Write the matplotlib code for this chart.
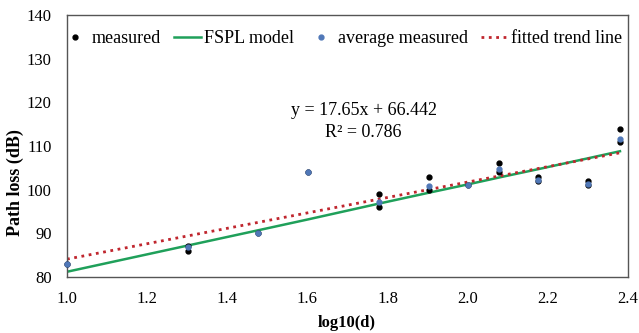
import numpy as np
import matplotlib
matplotlib.use("Agg")
import matplotlib.pyplot as plt

plt.rcParams['font.family'] = ['Liberation Serif', 'DejaVu Serif']

# distances (m) -> log10(d)
meas_x = [1.0, 1.301, 1.301, 1.477, 1.602, 1.778, 1.778, 1.903, 1.903,
          2.0, 2.079, 2.079, 2.176, 2.176, 2.301, 2.301, 2.380, 2.380]
meas_y = [83, 86, 87, 90, 104, 99, 96, 103, 100, 101, 106, 104, 103, 102,
          102, 101, 114, 111]

avg_x = [1.0, 1.301, 1.477, 1.602, 1.778, 1.903, 2.0, 2.079, 2.176, 2.301, 2.380]
avg_y = [83, 86.8, 90, 104, 97.2, 100.8, 101, 104.8, 102.2, 101.2, 111.5]

fspl_y = [81.2, 87.2, 90.7, 93.2, 96.8, 99.3, 101.2, 102.8, 104.7, 107.2, 108.8]

slope, intercept, r2 = 17.65, 66.442, 0.786

W, H = 639, 333
fig = plt.figure(figsize=(W / 100, H / 100), dpi=100)
ax = fig.add_axes([67 / W, 1 - 277 / H, 561 / W, 262 / H])

ax.plot(meas_x, meas_y, 'o', color='black', ms=3.5, label='measured',
        zorder=3, clip_on=False)
ax.plot(avg_x, fspl_y, '-', color='#1FA05A', lw=1.8, label='FSPL model', zorder=2)
ax.plot(avg_x, avg_y, 'o', color='#5078B8', ms=3.5, label='average measured',
        zorder=4, clip_on=False)
tx = np.array([avg_x[0], avg_x[-1]])
ax.plot(tx, slope * tx + intercept, ':', color='#C0262E', lw=2,
        label='fitted trend line', zorder=2)

ax.text(1.74, 118.2, f'y = {slope}x + {intercept}', ha='center', va='center', fontsize=13)
ax.text(1.74, 113.2, f'R² = {r2}', ha='center', va='center', fontsize=13)

ax.set_xlim(1.0, 2.4)
ax.set_ylim(80, 140)
ax.set_xticks(np.arange(1.0, 2.41, 0.2))
ax.set_xticklabels([f'{v:.1f}' for v in np.arange(1.0, 2.41, 0.2)])
ax.set_yticks(range(80, 141, 10))
ax.tick_params(length=0, labelsize=12)
ax.tick_params(axis='x', pad=10)
ax.tick_params(axis='y', pad=11)
for s in ax.spines.values():
    s.set_color('#555555')
    s.set_linewidth(1)

fig.text(347 / W, 1 - 323 / H, 'log10(d)', ha='center', va='center',
         fontsize=12, fontweight='bold')
fig.text(15 / W, 1 - 183 / H, 'Path loss (dB)', ha='center', va='center',
         rotation=90, fontsize=13, fontweight='bold')

ax.legend(loc='upper center', ncol=4, frameon=False, fontsize=13,
          handlelength=1.5, handletextpad=0.15, columnspacing=0.75,
          bbox_to_anchor=(0.49, 1.0), borderaxespad=0.45)

fig.savefig('out.png', dpi=100)
